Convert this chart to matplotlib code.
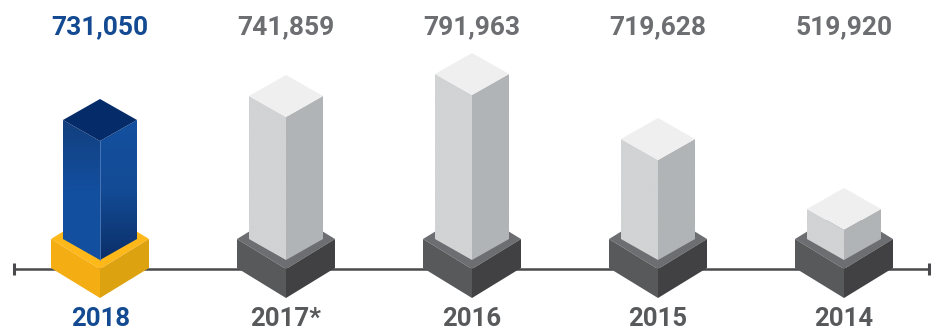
import numpy as np
import matplotlib
matplotlib.use("Agg")
import matplotlib.pyplot as plt
from matplotlib.colors import LinearSegmentedColormap
from matplotlib.patches import Polygon

years = ["2018", "2017*", "2016", "2015", "2014"]
totals = [731050, 741859, 791963, 719628, 519920]
highlighted = ["2018"]

# The pillar scale is stretched by hand: total -> pillar height in pixels.
scale_totals = [0, 519920, 719628, 731050, 741859, 791963, 900000]
scale_heights = [0, 30, 100, 119, 143, 165, 218]

W, H = 934, 327
CENTERS_START, CENTERS_STEP = 100, 186
AXIS_Y = 269
PILLAR_FOOT = 260
PILLAR_HW, PILLAR_HD = 37, 21
BASE_HW, BASE_HD, BASE_DROP = 49, 30, 29

GREY = dict(top="#efeff0", left=("#d1d3d4", "#d1d3d4"), right=("#b1b4b6", "#b1b4b6"),
            base_top="#6d6e71", base_left="#58595b", base_right="#414042",
            label="#6d6e71", year="#58595b", edge=None)
BLUE = dict(top="#062b69", left=("#123f7e", "#134f9f", "#134f9f"),
            right=("#13509f", "#134b95", "#0b2f69"),
            base_top="#ffb819", base_left="#f4ae13", base_right="#dca210",
            label="#134a92", year="#134a92", edge="#4f7cbc")

plt.rcParams["font.family"] = ["Roboto", "DejaVu Sans"]
fig = plt.figure(figsize=(W / 100, H / 100), dpi=100)
ax = fig.add_axes([0, 0, 1, 1])
ax.set_xlim(0, W)
ax.set_ylim(H, 0)
ax.axis("off")

# Hidden value axis running from the zero-height apex level up to the top of the figure.
zero_apex = PILLAR_FOOT - 2 * PILLAR_HD
vax = fig.add_axes([0, 1 - zero_apex / H, 1, zero_apex / H])
vax.set_yscale("function", functions=(
    lambda v: np.interp(v, scale_totals, scale_heights),
    lambda h: np.interp(h, scale_heights, scale_totals),
))
vax.set_ylim(0, scale_totals[-1])
vax.axis("off")


def apex_y(total):
    """Pixel row of a pillar's back corner for the given total."""
    display = vax.transData.transform((0, total))
    return ax.transData.inverted().transform(display)[1]


def shaded_face(points, colors, zorder):
    """Polygon filled with a vertical gradient."""
    pts = np.array(points)
    x0, x1 = pts[:, 0].min(), pts[:, 0].max()
    y0, y1 = pts[:, 1].min(), pts[:, 1].max()
    cmap = LinearSegmentedColormap.from_list("face", colors)
    grad = np.linspace(0, 1, 256).reshape(-1, 1)
    img = ax.imshow(grad, cmap=cmap, extent=(x0, x1, y1, y0), aspect="auto",
                    zorder=zorder, interpolation="bilinear")
    outline = Polygon(pts, closed=True, transform=ax.transData, fc="none", ec="none")
    ax.add_patch(outline)
    img.set_clip_path(outline)


# Baseline with end caps
ax.plot([14, 929], [AXIS_Y, AXIS_Y], color="#4a4a4c", lw=1.8, zorder=1, solid_capstyle="butt")
for cap_x in (14, 929):
    ax.plot([cap_x, cap_x], [263, 275], color="#4a4a4c", lw=2.2, zorder=1, solid_capstyle="butt")

for i, (year, total) in enumerate(zip(years, totals)):
    style = BLUE if year in highlighted else GREY
    cx = CENTERS_START + i * CENTERS_STEP

    # Plinth
    top_front = AXIS_Y
    ax.add_patch(Polygon([(cx - BASE_HW, top_front - BASE_HD), (cx, top_front - 2 * BASE_HD),
                          (cx + BASE_HW, top_front - BASE_HD), (cx, top_front)],
                         fc=style["base_top"], ec="none", zorder=2))
    ax.add_patch(Polygon([(cx - BASE_HW, top_front - BASE_HD), (cx, top_front),
                          (cx, top_front + BASE_DROP), (cx - BASE_HW, top_front - BASE_HD + BASE_DROP)],
                         fc=style["base_left"], ec="none", zorder=2))
    ax.add_patch(Polygon([(cx + BASE_HW, top_front - BASE_HD), (cx, top_front),
                          (cx, top_front + BASE_DROP), (cx + BASE_HW, top_front - BASE_HD + BASE_DROP)],
                         fc=style["base_right"], ec="none", zorder=2))

    # Pillar, with its height taken from the total
    apex = apex_y(total)
    side = apex + PILLAR_HD
    front = apex + 2 * PILLAR_HD
    foot_side = PILLAR_FOOT - PILLAR_HD
    shaded_face([(cx - PILLAR_HW, side), (cx, front), (cx, PILLAR_FOOT), (cx - PILLAR_HW, foot_side)],
                style["left"], 3)
    shaded_face([(cx + PILLAR_HW, side), (cx, front), (cx, PILLAR_FOOT), (cx + PILLAR_HW, foot_side)],
                style["right"], 3)
    ax.add_patch(Polygon([(cx - PILLAR_HW, side), (cx, apex), (cx + PILLAR_HW, side), (cx, front)],
                         fc=style["top"], ec="none", zorder=4))
    if style["edge"]:
        ax.plot([cx, cx], [front, PILLAR_FOOT], color=style["edge"], lw=0.6, zorder=5)

    ax.text(cx, 34, f"{total:,}", ha="center", va="baseline", fontsize=19,
            fontweight="bold", color=style["label"], zorder=6)
    ax.text(cx + (1 if i == 0 else 0), 326, year, ha="center", va="baseline", fontsize=18.5,
            fontweight="bold", color=style["year"], zorder=6)

ax.set_xlim(0, W)
ax.set_ylim(H, 0)
fig.savefig("out.png", dpi=100, facecolor="white")
